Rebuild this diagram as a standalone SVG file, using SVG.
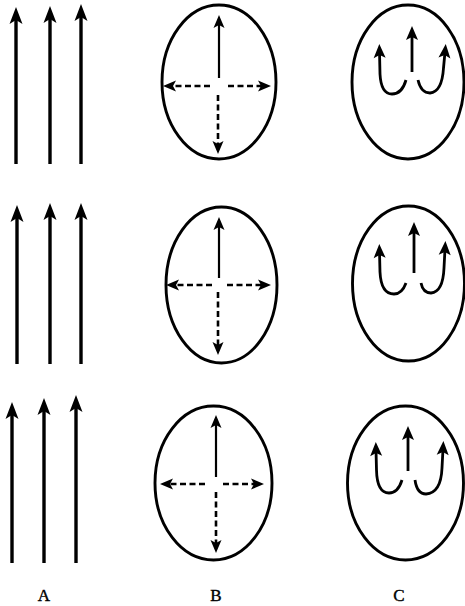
<svg xmlns="http://www.w3.org/2000/svg" width="465" height="606" viewBox="0 0 465 606">
<style>
.a{stroke:#000;stroke-width:3.4;fill:none;marker-end:url(#hA)}
.e{stroke:#000;stroke-width:2.9;fill:none}
.s{stroke:#000;stroke-width:2.2;fill:none;marker-end:url(#hB)}
.d{stroke:#000;stroke-width:2.6;fill:none;stroke-dasharray:6 3.5;marker-end:url(#hB)}
.c{stroke:#000;stroke-width:2.8;fill:none;marker-end:url(#hC)}
.t{font-family:"Liberation Serif","Times New Roman",serif;font-size:17px;fill:#000;text-anchor:middle;stroke:#000;stroke-width:0.4}
</style>
<defs>
<marker id="hA" markerUnits="userSpaceOnUse" markerWidth="17" markerHeight="13" refX="8" refY="6.5" orient="auto" overflow="visible"><path d="M0,0 L17,6.5 L0,13 L4,6.5 z" fill="#000"/></marker>
<marker id="hB" markerUnits="userSpaceOnUse" markerWidth="13" markerHeight="11" refX="6" refY="5.5" orient="auto" overflow="visible"><path d="M0,0 L13,5.5 L0,11 L3,5.5 z" fill="#000"/></marker>
<marker id="hC" markerUnits="userSpaceOnUse" markerWidth="14" markerHeight="12" refX="6" refY="6" orient="auto" overflow="visible"><path d="M0,0 L14,6 L0,12 L3,6 z" fill="#000"/></marker>
</defs>
<g id="colA">
<g id="A1"><line class="a" x1="16" y1="164" x2="16" y2="16"/><line class="a" x1="50" y1="164" x2="50" y2="15"/><line class="a" x1="81" y1="164" x2="81" y2="13"/></g>
<g id="A2"><line class="a" x1="17" y1="364" x2="17" y2="214"/><line class="a" x1="50" y1="364" x2="50" y2="212"/><line class="a" x1="81" y1="364" x2="81" y2="212"/></g>
<g id="A3"><line class="a" x1="12" y1="563" x2="12" y2="411"/><line class="a" x1="44" y1="563" x2="44" y2="407"/><line class="a" x1="76" y1="563" x2="76" y2="404"/></g>
</g>
<g id="colB">
<g id="B1"><ellipse class="e" cx="219" cy="82" rx="57" ry="77"/>
<line class="s" x1="219" y1="78" x2="219" y2="22"/>
<line class="d" x1="210" y1="86" x2="170" y2="86"/>
<line class="d" x1="228" y1="86" x2="264" y2="86"/>
<line class="d" x1="218" y1="95" x2="218" y2="147"/></g>
<g id="B2"><ellipse class="e" cx="221.5" cy="285" rx="55.5" ry="78"/>
<line class="s" x1="219" y1="278" x2="219" y2="224"/>
<line class="d" x1="212" y1="285" x2="173" y2="285"/>
<line class="d" x1="227" y1="285" x2="264" y2="285"/>
<line class="d" x1="218" y1="292" x2="218" y2="348"/></g>
<g id="B3"><ellipse class="e" cx="213.5" cy="483" rx="58.5" ry="77"/>
<line class="s" x1="216" y1="477" x2="216" y2="422"/>
<line class="d" x1="205" y1="484" x2="167" y2="484"/>
<line class="d" x1="223" y1="484" x2="257" y2="484"/>
<line class="d" x1="216" y1="492" x2="216" y2="546"/></g>
</g>
<g id="colC">
<g id="C1"><ellipse class="e" cx="408" cy="82" rx="56" ry="77"/>
<line class="c" x1="412" y1="72" x2="412" y2="34"/>
<path class="c" d="M406,80 Q402,94 392,94 Q381,94 380,74 L379.5,52"/>
<path class="c" d="M418,80 Q421,93 430,93 Q442,92 443.5,68 L445,52"/></g>
<g id="C2"><ellipse class="e" cx="408.5" cy="283.5" rx="56" ry="77.5"/>
<line class="c" x1="414" y1="273" x2="414" y2="230"/>
<path class="c" d="M406,283 Q402,294 394,294 Q381,294 380,272 L379.5,252"/>
<path class="c" d="M421,283 Q423,293 431,293 Q443,292 444,268 L445,249"/></g>
<g id="C3"><ellipse class="e" cx="405.5" cy="483" rx="58" ry="77"/>
<line class="c" x1="408" y1="471" x2="408" y2="434"/>
<path class="c" d="M402,480 Q398,493 389,493 Q377,493 376.5,470 L376,450"/>
<path class="c" d="M415,480 Q417,494 426,494 Q441,493 442,468 L443,449"/></g>
</g>
<g id="labels">
<text class="t" x="44" y="601">A</text>
<text class="t" x="216" y="601">B</text>
<text class="t" x="399" y="601">C</text>
</g>
</svg>
